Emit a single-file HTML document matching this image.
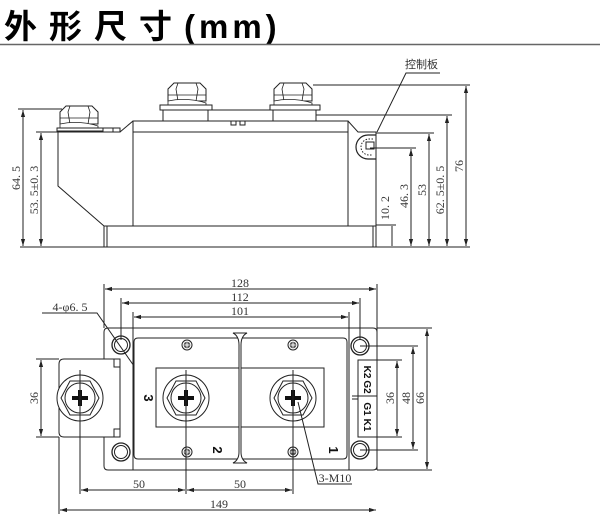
<!DOCTYPE html>
<html><head><meta charset="utf-8"><style>
body{margin:0;background:#fff}
svg{display:block}
text{font-family:"Liberation Serif","Noto Serif CJK SC",serif;fill:#333}
</style></head><body>
<svg width="600" height="524" viewBox="0 0 600 524" xmlns="http://www.w3.org/2000/svg">
<defs>
<marker id="a" viewBox="0 0 10 10" refX="10" refY="5" markerWidth="7" markerHeight="7" orient="auto-start-reverse"><path d="M0,2 L10,5 L0,8 z" fill="#222"/></marker>
<g id="nut">
<path d="M-19,-6 L-13,-12 L13,-12 L19,-6 L19,6 L-19,6 Z" fill="#fff" stroke="#222"/>
<path d="M-9,-12 L-11,-6 L-9,6 M9,-12 L11,-6 L9,6 M-19,0 L19,0" stroke="#222" fill="none" stroke-width="0.8"/>
<path d="M-19,6 Q0,2 19,8 L19,10 L-19,10 Z" fill="#fff" stroke="#222" stroke-width="0.8"/>
</g>
<g id="term">
<circle r="23" fill="#fff" stroke="#222"/>
<path d="M-19,0 L-10,-17 L10,-17 L19,0 L10,17 L-10,17 Z" fill="none" stroke="#222"/>
<circle r="15" fill="#fff" stroke="#222"/>
<path d="M-8,-2 H-2 V-8 H2 V-2 H8 V2 H2 V8 H-2 V2 H-8 Z" fill="#111"/>
</g>
<g id="sc"><circle r="5" fill="#fff" stroke="#222"/><circle r="3.3" fill="#555"/><path d="M-2.5,0 H2.5 M0,-2.5 V2.5" stroke="#fff" stroke-width="1"/></g>
<g id="hole"><circle r="9" fill="#fff" stroke="#222" stroke-width="1.3"/><circle r="6.5" fill="none" stroke="#222"/></g>
</defs>

<text x="4" y="38" style="font-family:'Liberation Sans','Noto Sans CJK SC',sans-serif;font-weight:bold;font-size:33px;fill:#000"><tspan style="letter-spacing:12px">外形尺寸</tspan><tspan style="letter-spacing:4px">(mm)</tspan></text>
<line x1="0" y1="44.5" x2="600" y2="44.5" stroke="#666" stroke-width="1.5"/>

<g stroke="#222" stroke-width="1" fill="none">
<line x1="20" y1="247" x2="470" y2="247"/>
<rect x="104" y="226" width="272" height="21"/>
<line x1="107" y1="226" x2="107" y2="247"/>
<line x1="373" y1="226" x2="373" y2="247"/>
<path d="M58,132 L58,186 L104,226"/>
<rect x="133" y="121" width="215" height="105"/>
<line x1="133" y1="132" x2="348" y2="132"/>
<path d="M120,132 L133,121"/>
<path d="M57,128 H120 V132 H57 Z"/>
<line x1="113" y1="128" x2="113" y2="132"/>
<path d="M163,110 H316 V121 H163 Z"/>
<line x1="208" y1="110" x2="208" y2="121"/>
<line x1="273" y1="110" x2="273" y2="121"/>
<path d="M231,121 V125 H236 V121 M240,121 V125 H245 V121"/>
<path d="M348,121 L358,132 L376,132 L376,226"/>
<path d="M376,135 L368,135 A12,12 0 0 0 368,159 L376,159" stroke-width="1.2"/>
<path d="M373,139 L369,139 A7.5,7.5 0 0 0 369,155 L373,155" stroke-dasharray="1.5,1.5"/>
<rect x="366" y="142" width="8" height="7"/>
</g>
<use href="#nut" x="79" y="118"/>
<use href="#nut" x="187" y="95"/>
<use href="#nut" x="293" y="95"/>
<g stroke="#222" stroke-width="1" fill="none">
<path d="M57,128 H103 V131 H57 Z" fill="#fff"/>
<path d="M160,105 H212 V110 H160 Z" fill="#fff"/>
<path d="M270,105 H320 V110 H270 Z" fill="#fff"/>
<line x1="18" y1="109" x2="62" y2="109"/>
<line x1="36" y1="132" x2="58" y2="132"/>
<line x1="23" y1="110" x2="23" y2="246" marker-start="url(#a)" marker-end="url(#a)"/>
<line x1="41" y1="133" x2="41" y2="246" marker-start="url(#a)" marker-end="url(#a)"/>
<line x1="313" y1="85" x2="470" y2="85"/>
<line x1="316" y1="115" x2="452" y2="115"/>
<line x1="376" y1="133" x2="434" y2="133"/>
<line x1="370" y1="148" x2="416" y2="148"/>
<line x1="376" y1="225" x2="396" y2="225"/>
<line x1="466" y1="86" x2="466" y2="246" marker-start="url(#a)" marker-end="url(#a)"/>
<line x1="447" y1="116" x2="447" y2="246" marker-start="url(#a)" marker-end="url(#a)"/>
<line x1="429" y1="134" x2="429" y2="246" marker-start="url(#a)" marker-end="url(#a)"/>
<line x1="411" y1="149" x2="411" y2="246" marker-start="url(#a)" marker-end="url(#a)"/>
<line x1="392" y1="226" x2="392" y2="246"/>
<path d="M440,73 H406 L377,132"/>
</g>
<g font-size="12">
<text x="405" y="68" style="font-family:'Noto Sans CJK SC',sans-serif;font-size:11px">控制板</text>
<text transform="translate(20,178) rotate(-90)" text-anchor="middle">64. 5</text>
<text transform="translate(38,190) rotate(-90)" text-anchor="middle">53. 5±0. 3</text>
<text transform="translate(463,166) rotate(-90)" text-anchor="middle">76</text>
<text transform="translate(444,190) rotate(-90)" text-anchor="middle">62. 5±0. 5</text>
<text transform="translate(426,190) rotate(-90)" text-anchor="middle">53</text>
<text transform="translate(408,196) rotate(-90)" text-anchor="middle">46. 3</text>
<text transform="translate(389,208) rotate(-90)" text-anchor="middle">10. 2</text>
</g>

<g stroke="#222" stroke-width="1" fill="none">
<path d="M104,332 Q104,328 108,328 H373 Q377,328 377,332 V466 Q377,470 373,470 H108 Q104,470 104,466 Z" fill="#fff"/>
<path d="M133,328 V470 M349,328 V470"/>
<path d="M138,338 H343 Q347,338 347,342 V455 Q347,459 343,459 H138 Q134,459 134,455 V342 Q134,338 138,338"/>
<path d="M64,359 H120 V437 H64 Q59,437 59,432 V364 Q59,359 64,359 Z" fill="#fff"/>
<path d="M114,359 V367 H120 M114,437 V429 H120"/>
<rect x="156" y="368" width="168" height="59"/>
<path d="M233,333 H247 Q241,336 241,345 V452 Q241,460 247,463 H233 Q239,460 239,452 V345 Q239,336 233,333 Z" fill="#fff"/>
<rect x="358" y="360" width="19" height="77"/>
<line x1="352" y1="396" x2="377" y2="396"/>
<line x1="352" y1="399" x2="358" y2="399"/>
</g>
<use href="#hole" x="121" y="345"/><use href="#hole" x="121" y="452"/>
<use href="#hole" x="360" y="346"/><use href="#hole" x="360" y="450"/>
<use href="#term" x="80" y="398"/><use href="#term" x="186" y="398"/><use href="#term" x="293" y="398"/>
<use href="#sc" x="187" y="345"/><use href="#sc" x="187" y="452"/><use href="#sc" x="293" y="345"/><use href="#sc" x="293" y="452"/>
<g>
<text transform="translate(144,398) rotate(90)" text-anchor="middle" style="font-family:'Liberation Sans',sans-serif;font-weight:bold;font-size:13px;fill:#111">3</text>
<text transform="translate(213,450) rotate(90)" text-anchor="middle" style="font-family:'Liberation Sans',sans-serif;font-weight:bold;font-size:13px;fill:#111">2</text>
<text transform="translate(329,450) rotate(90)" text-anchor="middle" style="font-family:'Liberation Sans',sans-serif;font-weight:bold;font-size:13px;fill:#111">1</text>
<text transform="translate(364,372) rotate(90)" text-anchor="middle" style="font-family:'Liberation Sans',sans-serif;font-weight:bold;font-size:10px;fill:#111">K2</text>
<text transform="translate(364,387) rotate(90)" text-anchor="middle" style="font-family:'Liberation Sans',sans-serif;font-weight:bold;font-size:10px;fill:#111">G2</text>
<text transform="translate(364,409) rotate(90)" text-anchor="middle" style="font-family:'Liberation Sans',sans-serif;font-weight:bold;font-size:10px;fill:#111">G1</text>
<text transform="translate(364,425) rotate(90)" text-anchor="middle" style="font-family:'Liberation Sans',sans-serif;font-weight:bold;font-size:10px;fill:#111">K1</text>
</g>
<g stroke="#222" stroke-width="1" fill="none">
<line x1="104" y1="284" x2="104" y2="328"/>
<line x1="377" y1="284" x2="377" y2="470"/>
<line x1="121" y1="298" x2="121" y2="340"/>
<line x1="360" y1="298" x2="360" y2="340"/>
<line x1="133" y1="312" x2="133" y2="328"/>
<line x1="349" y1="312" x2="349" y2="328"/>
<line x1="105" y1="289" x2="376" y2="289" marker-start="url(#a)" marker-end="url(#a)"/>
<line x1="122" y1="303" x2="359" y2="303" marker-start="url(#a)" marker-end="url(#a)"/>
<line x1="134" y1="317" x2="348" y2="317" marker-start="url(#a)" marker-end="url(#a)"/>
<line x1="377" y1="328" x2="432" y2="328"/><line x1="377" y1="470" x2="432" y2="470"/>
<line x1="360" y1="346" x2="418" y2="346"/><line x1="360" y1="450" x2="418" y2="450"/>
<line x1="377" y1="360" x2="402" y2="360"/><line x1="377" y1="437" x2="402" y2="437"/>
<line x1="427" y1="329" x2="427" y2="469" marker-start="url(#a)" marker-end="url(#a)"/>
<line x1="413" y1="347" x2="413" y2="449" marker-start="url(#a)" marker-end="url(#a)"/>
<line x1="397" y1="361" x2="397" y2="436" marker-start="url(#a)" marker-end="url(#a)"/>
<line x1="36" y1="359" x2="59" y2="359"/><line x1="36" y1="437" x2="59" y2="437"/>
<line x1="41" y1="360" x2="41" y2="436" marker-start="url(#a)" marker-end="url(#a)"/>
<line x1="80" y1="370" x2="80" y2="494"/><line x1="186" y1="370" x2="186" y2="494"/><line x1="293" y1="370" x2="293" y2="494"/>
<line x1="59" y1="437" x2="59" y2="514"/>
<line x1="81" y1="490" x2="185" y2="490" marker-start="url(#a)" marker-end="url(#a)"/>
<line x1="187" y1="490" x2="292" y2="490" marker-start="url(#a)" marker-end="url(#a)"/>
<line x1="60" y1="510" x2="376" y2="510" marker-start="url(#a)" marker-end="url(#a)"/>
<path d="M42,313 H97 L134,366"/>
<path d="M352,484 H318 L298,402"/>
</g>
<g font-size="12" text-anchor="middle">
<text x="240" y="287">128</text>
<text x="240" y="301">112</text>
<text x="240" y="315">101</text>
<text x="139" y="488">50</text>
<text x="240" y="488">50</text>
<text x="219" y="508">149</text>
<text transform="translate(38,398) rotate(-90)">36</text>
<text transform="translate(394,398) rotate(-90)">36</text>
<text transform="translate(410,398) rotate(-90)">48</text>
<text transform="translate(424,398) rotate(-90)">66</text>
<text x="70" y="311">4-φ6. 5</text>
<text x="335" y="482">3-M10</text>
</g>
</svg>
</body></html>
